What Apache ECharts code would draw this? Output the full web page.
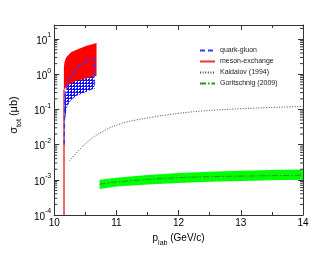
<!DOCTYPE html>
<html><head><meta charset="utf-8">
<script src="https://cdn.jsdelivr.net/npm/echarts@6/dist/echarts.min.js"></script>
<style>html,body{margin:0;padding:0;background:#fff}#c{width:327px;height:253px}</style>
</head><body><div id="c"></div>
<script>
// ---- data ----
const mesonUpperP = [10.155, 10.165, 10.19, 10.27, 10.35, 10.51, 10.68];
const mesonUpperS = [1.55, 2.2, 3.0, 4.2, 4.9, 6.3, 7.7];
const mesonLowerP = [10.155, 10.25, 10.35, 10.51, 10.68];
const mesonLowerS = [0.37, 0.52, 0.65, 0.75, 0.9];
const mesonLineP = [10.157, 10.157];
const mesonLineS = [1e-4, 0.37];

const qgUpperP = [10.16, 10.165, 10.17, 10.22, 10.3, 10.4, 10.51, 10.61, 10.645];
const qgUpperS = [0.01, 0.1, 0.25, 0.58, 1.1, 1.7, 2.2, 2.7, 2.6];
const qgLowerP = [10.16, 10.17, 10.2, 10.25, 10.35, 10.51, 10.645];
const qgLowerS = [0.01, 0.05, 0.11, 0.17, 0.24, 0.31, 0.39];

const kaiP = [10.247, 10.457, 10.666, 10.93, 11.19, 11.72, 12.24, 12.77, 13.29, 13.9, 14.0];
const kaiS = [0.0035, 0.0089, 0.018, 0.032, 0.045, 0.066, 0.086, 0.1, 0.11, 0.12, 0.122];

const gorP = [10.73, 11.0, 11.5, 12.0, 12.5, 13.0, 13.5, 14.0];
const gorS = [7.5e-4, 8.7e-4, 1.02e-3, 1.15e-3, 1.23e-3, 1.27e-3, 1.31e-3, 1.35e-3];
const gorUpperS = [1.0e-3, 1.15e-3, 1.38e-3, 1.56e-3, 1.7e-3, 1.82e-3, 1.9e-3, 1.95e-3];
const gorLowerS = [5.5e-4, 6.4e-4, 7.4e-4, 8.1e-4, 8.8e-4, 9.3e-4, 9.7e-4, 1.0e-3];

const xTicks = [10, 11, 12, 13, 14];
const yMin = 1e-4, yMax = 25;

// ---- helpers ----
const zip = (p, s) => p.map((v, i) => [v, s[i]]);
function bandSeries(upP, upS, loP, loS, fill, z) {
  const up = zip(upP, upS), lo = zip(loP, loS).reverse();
  const pts = up.concat(lo);
  return {
    type: 'custom', silent: true, z: z, data: [[upP[0], upS[0]]],
    renderItem: function (params, api) {
      return { type: 'polygon', shape: { points: pts.map(d => api.coord(d)) }, style: { fill: fill } };
    }
  };
}
const pat = document.createElement('canvas');
pat.width = 3; pat.height = 3;
const pc = pat.getContext('2d');
pc.fillStyle = '#1010ff'; pc.fillRect(0, 0, 3, 3);
pc.fillStyle = '#ffffff'; pc.fillRect(0, 0, 2, 1); pc.fillRect(0, 1, 1, 1);

const minorVals = [];
for (let d = -4; d <= 1; d++) for (let k = 2; k <= 9; k++) { const v = k * Math.pow(10, d); if (v < yMax) minorVals.push(v); }

const chart = echarts.init(document.getElementById('c'), null, { renderer: 'canvas' });
const font = 'Liberation Sans, Arial, sans-serif';
const axisCommon = {
  axisLine: { show: true, onZero: false, lineStyle: { color: '#333', width: 1 } },
  splitLine: { show: false }
};
chart.setOption({
  animation: false,
  textStyle: { fontFamily: font },
  grid: { left: 51, top: 25, right: 24, bottom: 38 },
  legend: {
    orient: 'vertical', left: 194, top: 42, itemWidth: 15, itemHeight: 8, itemGap: 4,
    itemStyle: { opacity: 0 },
    textStyle: { fontSize: 7, color: '#222', fontFamily: font },
    data: ['quark-gluon', 'meson-exchange', 'Kaidalov (1994)', 'Goritschnig (2009)']
  },
  xAxis: [
    Object.assign({}, axisCommon, {
      type: 'value', min: xTicks[0], max: xTicks[xTicks.length - 1], interval: 1, position: 'bottom',
      axisTick: { inside: true, length: 5, lineStyle: { color: '#333' } },
      minorTick: { show: true, splitNumber: 2, length: 3, lineStyle: { color: '#333' } },
      axisLabel: { margin: 3, fontSize: 10, color: '#000' },
      name: '{a|p}{s|lab}{a| (GeV/c)}', nameLocation: 'middle', nameGap: 10,
      nameTextStyle: { rich: { a: { fontSize: 10, color: '#000', lineHeight: 14, verticalAlign: 'top' }, s: { fontSize: 7, color: '#000', lineHeight: 14, verticalAlign: 'bottom' } } }
    }),
    Object.assign({}, axisCommon, {
      type: 'value', min: xTicks[0], max: xTicks[xTicks.length - 1], interval: 1, position: 'top',
      axisTick: { inside: true, length: 5, lineStyle: { color: '#333' } },
      minorTick: { show: true, splitNumber: 2, length: 3, lineStyle: { color: '#333' } },
      axisLabel: { show: false }
    })
  ],
  yAxis: [
    Object.assign({}, axisCommon, {
      type: 'log', logBase: 10, min: yMin, max: yMax, position: 'left',
      axisTick: { inside: true, length: 5, lineStyle: { color: '#333' } },
      axisLabel: {
        margin: 3, color: '#000',
        formatter: function (v) {
          const l = Math.log10(v), e = Math.round(l);
          if (Math.abs(l - e) > 1e-6) return '';
          return '{b|10}{s|' + e + '}';
        },
        rich: { b: { fontSize: 10, lineHeight: 14, verticalAlign: 'bottom', color: '#000' }, s: { fontSize: 7, lineHeight: 14, verticalAlign: 'top', color: '#000' } }
      },
      name: '{a|σ}{s|tot}{a| (μb)}', nameLocation: 'middle', nameGap: 22, nameRotate: 90,
      nameTextStyle: { padding: [0, 0, 0, 10], rich: { a: { fontSize: 11, color: '#000', lineHeight: 15, verticalAlign: 'top' }, s: { fontSize: 7, color: '#000', lineHeight: 15, verticalAlign: 'bottom' } } }
    }),
    Object.assign({}, axisCommon, {
      type: 'log', logBase: 10, min: yMin, max: yMax, position: 'right',
      axisTick: { inside: true, length: 5, lineStyle: { color: '#333' } },
      axisLabel: { show: false }
    })
  ],
  series: [
    // log minor ticks on left & right
    {
      type: 'custom', silent: true, z: 10, data: minorVals.map(v => [10, v]),
      renderItem: function (params, api) {
        const v = api.value(1);
        const l = api.coord([10, v]), r = api.coord([14, v]);
        return { type: 'group', children: [
          { type: 'line', shape: { x1: l[0], y1: l[1], x2: l[0] + 3, y2: l[1] }, style: { stroke: '#333', lineWidth: 1 } },
          { type: 'line', shape: { x1: r[0], y1: r[1], x2: r[0] - 3, y2: r[1] }, style: { stroke: '#333', lineWidth: 1 } }
        ] };
      }
    },
    bandSeries(qgUpperP, qgUpperS, qgLowerP, qgLowerS, { image: pat, repeat: 'repeat' }, 2),
    bandSeries(mesonUpperP, mesonUpperS, mesonLowerP, mesonLowerS, '#ff0000', 3),
    bandSeries(gorP, gorUpperS, gorP, gorLowerS, '#00ff00', 2),
    {
      name: 'quark-gluon', type: 'line', z: 5, symbol: 'none', showSymbol: false, color: '#3a3aff',
      data: zip(qgUpperP, qgUpperS).concat([[qgLowerP[qgLowerP.length - 1], qgLowerS[qgLowerS.length - 1]]]),
      lineStyle: { width: 1.5, type: [5, 3], color: '#3a3aff' }
    },
    {
      name: 'meson-exchange', type: 'line', z: 4, symbol: 'none', showSymbol: false, color: '#ff3030',
      data: zip(mesonLineP, mesonLineS), lineStyle: { width: 1.5, color: '#ff3030' }
    },
    {
      name: 'Kaidalov (1994)', type: 'line', z: 5, symbol: 'none', showSymbol: false, smooth: 0.3, color: '#444',
      data: zip(kaiP, kaiS), lineStyle: { width: 1, type: [1, 1.6], color: '#444' }
    },
    {
      name: 'Goritschnig (2009)', type: 'line', z: 5, symbol: 'none', showSymbol: false, smooth: 0.3, color: '#2f8f2f',
      data: zip(gorP, gorS), lineStyle: { width: 1, type: [6, 2, 1.5, 2], color: '#2f8f2f' }
    }
  ]
});
</script></body></html>
